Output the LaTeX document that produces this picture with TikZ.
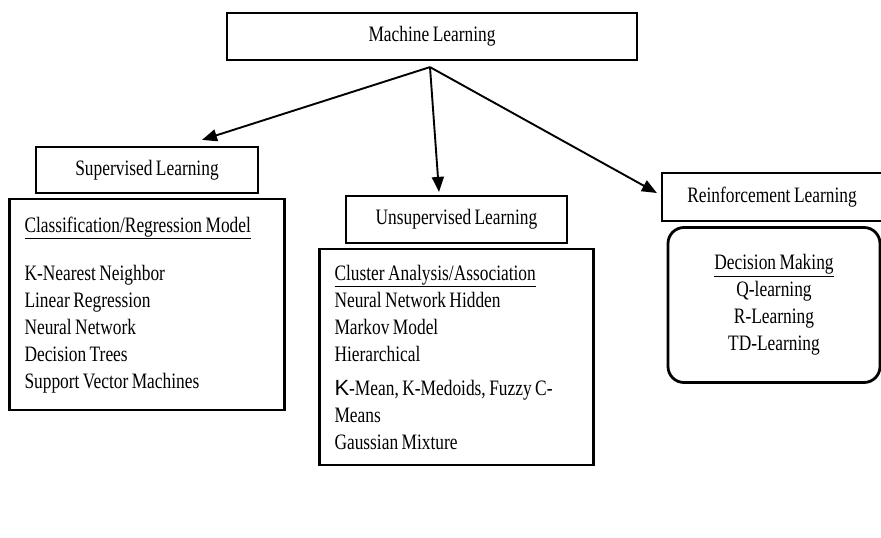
\documentclass[tikz,border=0pt]{standalone}
\usepackage{fontspec}
\setmainfont{Liberation Serif}[FakeStretch=0.79, WordSpace=0.79]
\newfontfamily\arialK{Liberation Sans}
\usepackage{tikz}
\usetikzlibrary{arrows.meta, positioning}

\begin{document}
\begin{tikzpicture}[
      x=1pt, y=-1pt,
      node distance=4pt,
      box/.style={draw, line width=2.2pt, inner sep=0pt, font=\fontsize{22}{27}\selectfont},
      listbox/.style={box, inner xsep=15pt, align=left},
      arr/.style={-{Triangle[length=15pt, width=12pt]}, line width=1.9pt},
    ]
      \useasboundingbox (0,0) rectangle (881,538);

      \node[box, minimum width=410pt, minimum height=47pt] (ml) at (432,36.5) {Machine Learning};

      \node[box, minimum width=222pt, minimum height=46pt] (sup) at (147,170) {Supervised Learning};
      \node[box, minimum width=221pt, minimum height=47pt] (unsup) at (456.5,219.5) {Unsupervised Learning};
      \node[box, minimum width=220pt, minimum height=48pt] (rein) at (772,197) {Reinforcement Learning};

      \node[listbox, minimum height=211pt, below=of sup] (supbox) {%
        \makebox[245pt][l]{\underline{Classification/Regression Model}}\\[21pt]
        K-Nearest Neighbor\\
        Linear Regression\\
        Neural Network\\
        Decision Trees\\
        Support Vector Machines};

      \node[listbox, minimum height=216pt, below=of unsup] (unsupbox) {%
        \makebox[244pt][l]{\underline{Cluster Analysis/Association}}\\
        Neural Network Hidden\\
        Markov Model\\
        Hierarchical\\[7pt]
        {\arialK K}-Mean, K-Medoids, Fuzzy C-\\
        Means\\
        Gaussian Mixture};

      \node[box, line width=2.8pt, rounded corners=16pt, align=center, minimum width=212pt,
            minimum height=155pt, below=of rein, xshift=2pt] (reinbox) {%
        \underline{Decision Making}\\
        Q-learning\\
        R-Learning\\
        TD-Learning};

      \coordinate (split) at ([xshift=-2pt, yshift=-6pt]ml.south);
      \draw[arr] (split) -- ([xshift=55pt, yshift=6pt]sup.north);
      \draw[arr] (split) -- ([xshift=-17.5pt, yshift=3pt]unsup.north);
      \draw[arr] (split) -- ([xshift=-4pt, yshift=4pt]rein.west);
    \end{tikzpicture}
\end{document}
